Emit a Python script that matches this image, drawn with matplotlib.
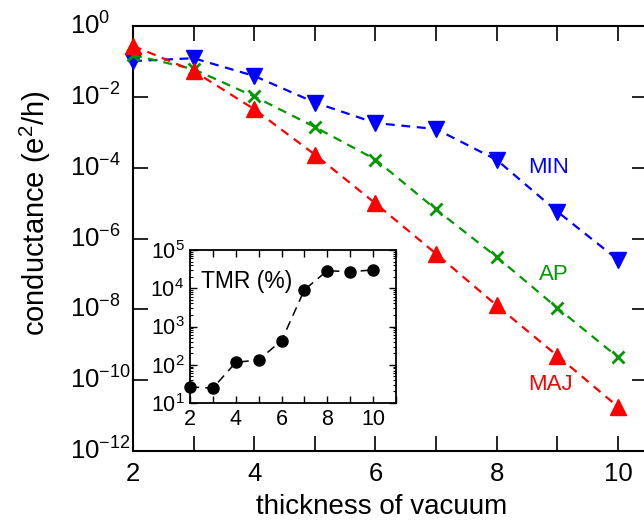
import numpy as np
import matplotlib
matplotlib.use('Agg')
import matplotlib.pyplot as plt
from matplotlib.ticker import MultipleLocator, LogLocator, NullFormatter

plt.rcParams['font.family'] = ['Liberation Sans', 'DejaVu Sans']
plt.rcParams['mathtext.fontset'] = 'custom'
plt.rcParams['mathtext.rm'] = 'Liberation Sans'
plt.rcParams['mathtext.it'] = 'Liberation Sans:italic'

# data (log10 of conductance, e^2/h)
thickness = [2, 3, 4, 5, 6, 7, 8, 9, 10]
log_maj = [-0.56, -1.27, -2.35, -3.63, -5.01, -6.43, -7.89, -9.31, -10.75]
log_ap = [-0.82, -1.22, -1.99, -2.85, -3.77, -5.18, -6.52, -7.96, -9.35]
log_min = [-0.99, -0.91, -1.41, -2.16, -2.74, -2.91, -3.78, -5.24, -6.60]
log_tmr = [1.42, 1.39, 2.06, 2.13, 2.63, 3.96, 4.46, 4.43, 4.48]

maj = 10.0 ** np.array(log_maj)
ap = 10.0 ** np.array(log_ap)
mn = 10.0 ** np.array(log_min)
tmr = 10.0 ** np.array(log_tmr)

red = '#ff0000'
green = '#009900'
blue = '#0000ff'

W, H = 644, 520
fig = plt.figure(figsize=(6.44, 5.2), dpi=100)

# main axes (pixel box 133..647 x 26..451)
ax = fig.add_axes([133 / W, 1 - 451 / H, (647 - 133) / W, (451 - 26) / H])
ax.set_yscale('log')
ax.set_xlim(2, 10.48)
ax.set_ylim(1e-12, 1e0)

ax.plot(thickness, mn, color=blue, ls='--', dashes=(4, 3), lw=1.6,
        marker='v', ms=11.5, clip_on=False, zorder=3)
ax.plot(thickness, ap, color=green, ls='--', dashes=(4, 3), lw=1.6,
        marker='x', ms=8, mew=2, clip_on=False, zorder=3)
ax.plot(thickness, maj, color=red, ls='--', dashes=(4, 3), lw=1.6,
        marker='^', ms=11.5, clip_on=False, zorder=3)

ax.text(8.85, 1e-4, 'MIN', color=blue, fontsize=16, ha='center', va='center')
ax.text(8.95, 10 ** -7.02, 'AP', color=green, fontsize=16, ha='center', va='center')
ax.text(8.88, 10 ** -10.13, 'MAJ', color=red, fontsize=16, ha='center', va='center')

ax.xaxis.set_major_locator(MultipleLocator(2))
ax.xaxis.set_minor_locator(MultipleLocator(1))
ax.set_yticks([10.0 ** e for e in range(-12, 1, 2)])
ax.yaxis.set_minor_locator(LogLocator(subs=[]))
ax.yaxis.set_minor_formatter(NullFormatter())
ax.tick_params(which='both', direction='in', top=True, right=True,
               length=11, width=1.2, labelsize=18.5)
ax.tick_params(axis='x', pad=8)
ax.tick_params(axis='y', pad=45)
for lab in ax.get_yticklabels():
    lab.set_horizontalalignment('left')
    lab.set_verticalalignment('center')
for sp in ax.spines.values():
    sp.set_linewidth(1.5)

ax.set_xlabel('thickness of vacuum', fontsize=20)
ax.set_ylabel('conductance (e$^2$/h)', fontsize=21)
ax.xaxis.set_label_coords(0.484, -0.1)
ax.yaxis.set_label_coords(-0.155, 0.56)

# inset (pixel box 190..396 x 250..403)
ins = fig.add_axes([190 / W, 1 - 403 / H, (396 - 190) / W, (403 - 250) / H])
ins.set_yscale('log')
ins.set_xlim(2, 11)
ins.set_ylim(1e1, 1e5)
ins.plot(thickness, tmr, color='black', ls='--', dashes=(6, 4), lw=1.1,
         marker='o', ms=8, clip_on=False, zorder=3)
ins.text(2.5, 10 ** 4.17, 'TMR (%)', fontsize=16.5, ha='left', va='center')
ins.xaxis.set_major_locator(MultipleLocator(2))
ins.xaxis.set_minor_locator(MultipleLocator(1))
ins.yaxis.set_major_locator(LogLocator(base=10, numticks=10))
ins.yaxis.set_minor_locator(LogLocator(base=10, subs=np.arange(2, 10), numticks=10))
ins.yaxis.set_minor_formatter(NullFormatter())
ins.tick_params(which='major', direction='in', top=True, right=True,
                length=5, width=1, labelsize=15.5, pad=4)
ins.tick_params(which='minor', direction='in', top=True, right=True,
                length=2.5, width=0.8)
ins.tick_params(axis='x', which='minor', length=5, width=1)
for sp in ins.spines.values():
    sp.set_linewidth(1.3)

fig.savefig('out.png', dpi=100)
